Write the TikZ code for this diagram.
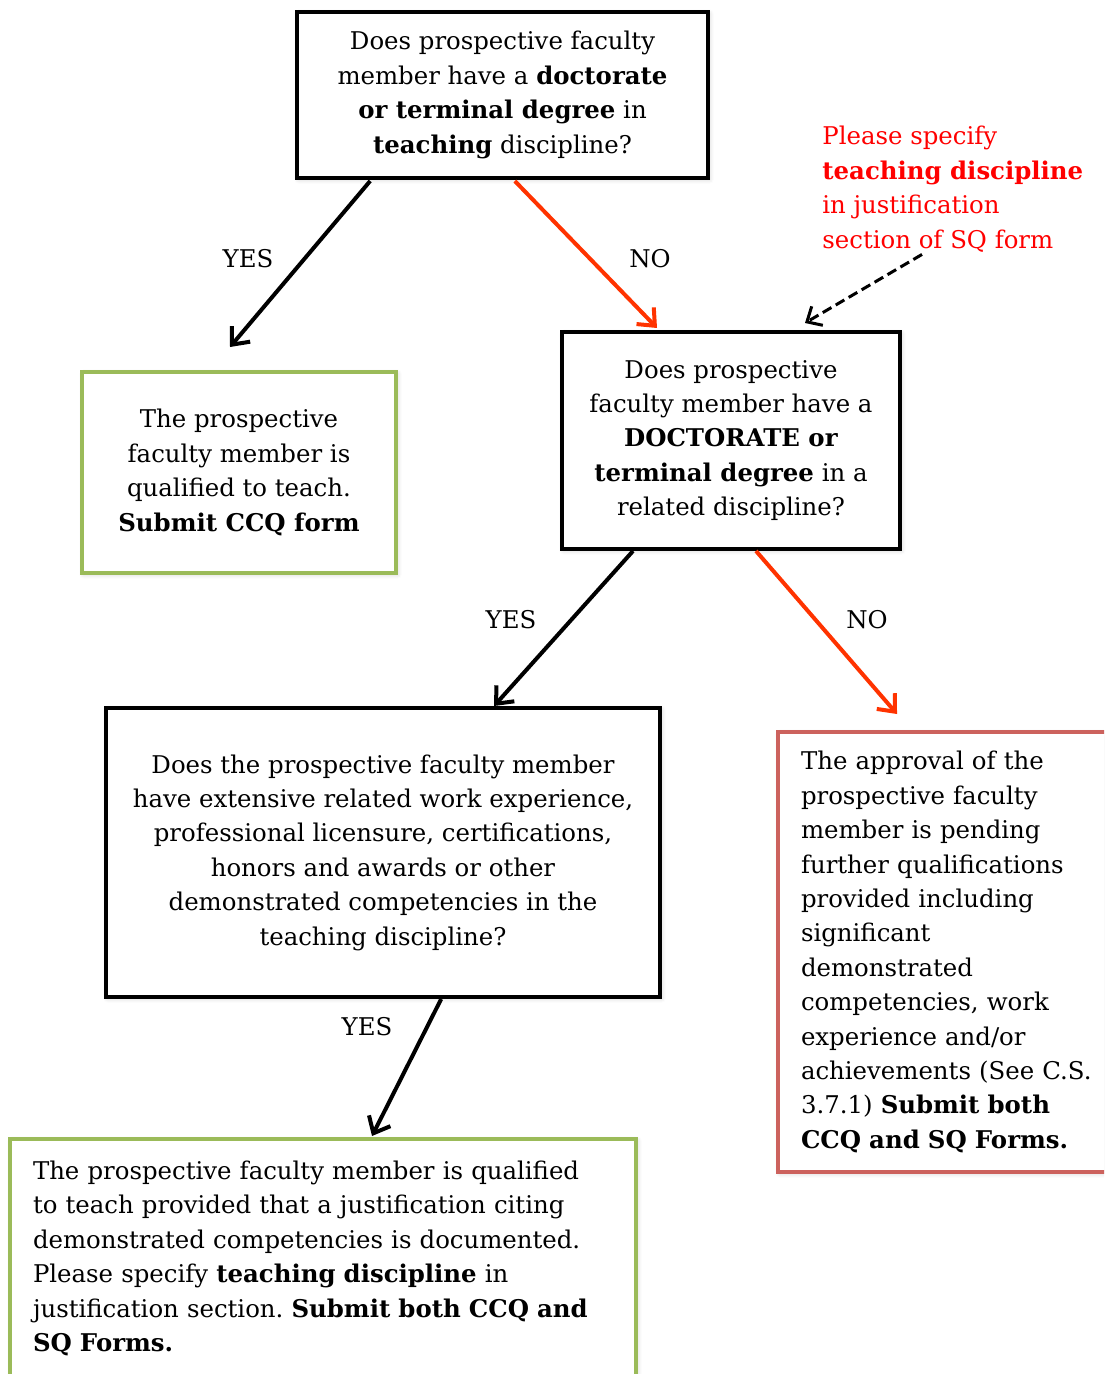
\documentclass[tikz,border=0pt]{standalone}
\usepackage{fontspec}
\setmainfont{DejaVu Serif}
\usetikzlibrary{arrows.meta,calc,positioning,shadows.blur}
\definecolor{boxgreen}{RGB}{155,187,89}
\definecolor{boxred}{RGB}{204,98,93}
\definecolor{nored}{RGB}{255,51,0}
\definecolor{notered}{RGB}{255,0,0}
\frenchspacing

\begin{document}
\begin{tikzpicture}[x=0.5pt, y=-0.5pt,
    every node/.style={font=\fontsize{12.2}{17.2}\selectfont},
    qbox/.style={draw, line width=2pt, fill=white, align=center, outer sep=0pt, inner sep=0pt, blur shadow={shadow xshift=0.8pt, shadow yshift=-0.8pt, shadow opacity=20}},
    gbox/.style={qbox, draw=boxgreen},
    rbox/.style={qbox, draw=boxred, align=left, inner xsep=11.5pt},
    yesarrow/.style={line width=2pt, -{Straight Barb[length=7pt,width=12pt]}},
    noarrow/.style={yesarrow, nored},
    notearrow/.style={line width=1.5pt, dash pattern=on 5pt off 2.5pt, -{Straight Barb[length=6pt,width=11pt]}}]
    \useasboundingbox (0,0) rectangle (1104,1374);
    \clip (0,0) rectangle (1104,1374);

    \node (docteach)[qbox, minimum width=205.5pt, minimum height=83pt] at (502.5,95) {Does prospective faculty\\ member have a \textbf{doctorate}\\ \textbf{or terminal degree} in\\ \textbf{teaching} discipline?};
    \node (ccq)[gbox, minimum width=157pt, minimum height=100.5pt, below=97pt of docteach, xshift=-131.75pt] {The prospective\\ faculty member is\\ qualified to teach.\\ \textbf{Submit CCQ form}};
    \node (docrelated)[qbox, minimum width=169pt, minimum height=108.5pt, below=77pt of docteach, xshift=114.25pt] {Does prospective\\ faculty member have a\\ \textbf{DOCTORATE or}\\ \textbf{terminal degree} in a\\ related discipline?};
    \node (extensive)[qbox, minimum width=277pt, minimum height=144.5pt, below=79.5pt of docrelated, xshift=-174pt] {Does the prospective faculty member\\ have extensive related work experience,\\ professional licensure, certifications,\\ honors and awards or other\\ demonstrated competencies in the\\ teaching discipline?};
    \node (pending)[rbox, text width=148pt, minimum height=220pt, below=91.5pt of docrelated, xshift=109pt] {The approval of the\\ prospective faculty\\ member is pending\\ further qualifications\\ provided including\\ significant\\ demonstrated\\ competencies, work\\ experience and/or\\ achievements (See C.S.\\ 3.7.1) \textbf{Submit both}\\ \textbf{CCQ and SQ Forms.}};
    \node (justify)[gbox, align=left, text width=290pt, inner xsep=11.5pt, inner ysep=11pt, below=71pt of extensive, xshift=-30pt] {The prospective faculty member is qualified\\ to teach provided that a justification citing\\ demonstrated competencies is documented.\\ Please specify \textbf{teaching discipline} in\\ justification section. \textbf{Submit both CCQ and}\\ \textbf{SQ Forms.}\rule[-17pt]{0pt}{17pt}};
    \node (specify)[notered, align=left, inner sep=0pt, anchor=north west] at (822,126) {Please specify\\ \textbf{teaching discipline}\\ in justification\\ section of SQ form};

    \node (yesa) at (248,259) {YES};
    \node (noa) at (650,259) {NO};
    \node (yesb) at (511,620) {YES};
    \node (nob) at (867,620) {NO};
    \node (yesc) at (367,1027) {YES};

    \draw[yesarrow] ($(docteach.south west)!0.178!(docteach.south east)+(0,3)$) -- ($(ccq.north)+(-9,-25)$);
    \draw[noarrow] ($(docteach.south west)!0.53!(docteach.south east)+(0,3)$) -- ($(docrelated.north)+(-74,-4)$);
    \draw[yesarrow] ($(docrelated.south west)!0.21!(docrelated.south east)+(0,2)$) -- ($(extensive.north)+(111,-2)$);
    \draw[noarrow] ($(docrelated.south west)!0.574!(docrelated.south east)+(0,2)$) -- ($(pending.north)+(-52,-18)$);
    \draw[yesarrow] ($(extensive.south west)!0.605!(extensive.south east)+(0,2)$) -- ($(justify.north)+(49,-3)$);
    \draw[notearrow] ($(specify.south west)+(100,2)$) -- ($(docrelated.north east)+(-95,-9)$);
\end{tikzpicture}
\end{document}
